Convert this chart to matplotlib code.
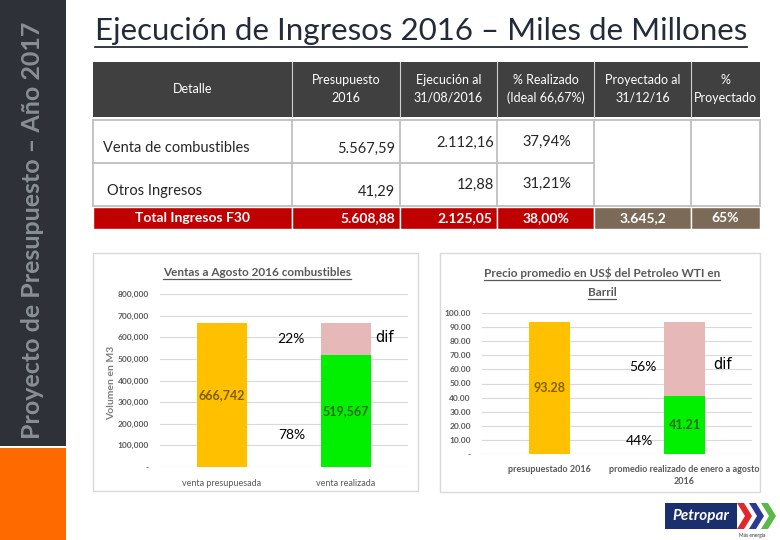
import matplotlib
matplotlib.use("Agg")
import matplotlib.pyplot as plt
from matplotlib.patches import Rectangle, Polygon

plt.rcParams['font.family'] = ['Lato', 'DejaVu Sans']

W, H = 780, 540

titulo = "Ejecución de Ingresos 2016 – Miles de Millones"
lateral = "Proyecto de Presupuesto – Año 2017"

encabezados = ["Detalle", "Presupuesto\n2016", "Ejecución al\n31/08/2016",
               "% Realizado\n(Ideal 66,67%)", "Proyectado al\n31/12/16", "%\nProyectado"]
detalle = ["Venta de combustibles", "Otros Ingresos"]
presupuesto = ["5.567,59", "41,29"]
ejecucion = ["2.112,16", "12,88"]
realizado = ["37,94%", "31,21%"]
total = ["Total Ingresos F30", "5.608,88", "2.125,05", "38,00%", "3.645,2", "65%"]

ventas_titulo = "Ventas a Agosto 2016 combustibles"
ventas_cat = ["venta presupuesada", "venta realizada"]
ventas_presup = 666742
ventas_real = 519567
ventas_pct = ["22%", "78%"]
ventas_ticks = [0, 100000, 200000, 300000, 400000, 500000, 600000, 700000, 800000]

wti_titulo = ["Precio promedio en US$ del Petroleo WTI en", "Barril"]
wti_cat = ["presupuestado 2016", "promedio realizado de enero a agosto\n2016"]
wti_presup = 93.28
wti_real = 41.21
wti_pct = ["56%", "44%"]
wti_ticks = [0, 10, 20, 30, 40, 50, 60, 70, 80, 90, 100]

NARANJA = "#FFC000"
VERDE = "#00F000"
ROSA = "#E6B8B7"
GRIS = "#595959"


def px_axes(fig, x0, y0, x1, y1):
    return fig.add_axes([x0 / W, 1 - y1 / H, (x1 - x0) / W, (y1 - y0) / H])


fig = plt.figure(figsize=(W / 100, H / 100), dpi=100)
bg = fig.add_axes([0, 0, 1, 1])
bg.set_xlim(0, W)
bg.set_ylim(H, 0)
bg.axis("off")

# barra lateral
bg.add_patch(Rectangle((0, 0), 66, 446, fc="#2E3238", ec="none"))
bg.add_patch(Rectangle((0, 448), 66, 92, fc="#FF6A00", ec="none"))
bg.text(33, 230, lateral, rotation=90, ha="center", va="center",
        fontsize=18, fontweight="bold", color="#8A8F96")

# titulo
t_main = bg.text(421, 31, titulo, ha="center", va="center", fontsize=22.5,
                 color="#222B3A")

# tabla
cols = [93, 292, 400, 497, 594, 691, 760]
bg.add_patch(Rectangle((93, 62), 667, 55, fc="#404040", ec="none"))
for x in cols[1:-1]:
    bg.plot([x, x], [62, 117], color="#D0D0D0", lw=0.8)
for i, txt in enumerate(encabezados):
    xc = (cols[i] + cols[i + 1]) / 2
    bg.text(xc, 89, txt, ha="center", va="center", fontsize=9,
            color="white", linespacing=1.5)

borde = "#BFBFBF"
bg.plot([93, 760], [120, 120], color=borde, lw=1.3)
bg.plot([93, 594], [163, 163], color=borde, lw=1.3)
bg.plot([93, 760], [206, 206], color=borde, lw=1.3)
for x in cols:
    bg.plot([x, x], [120, 206], color=borde, lw=1.3)

filas_y = [(148, 143), (191, 185)]
for i in range(2):
    ya, yb = filas_y[i]
    bg.text(103 if i == 0 else 107, ya, detalle[i], ha="left", va="center",
            fontsize=10.5, color="#262626")
    bg.text(395, ya + 1, presupuesto[i], ha="right", va="center",
            fontsize=10.5, color="#262626")
    bg.text(494, yb, ejecucion[i], ha="right", va="center",
            fontsize=10.5, color="#262626")
    bg.text(547, yb - 1, realizado[i], ha="center", va="center",
            fontsize=10.5, color="#262626")

for i, txt in enumerate(total):
    fc = "#C00000" if i < 4 else "#7B6A58"
    bg.add_patch(Rectangle((cols[i], 207), cols[i + 1] - cols[i], 22,
                           fc=fc, ec="white", lw=1))
    if i in (1, 2):
        bg.text(cols[i + 1] - 5, 218, txt, ha="right", va="center",
                fontsize=10, color="white", fontweight="bold")
    else:
        bg.text((cols[i] + cols[i + 1]) / 2, 218, txt, ha="center",
                va="center", fontsize=10, color="white", fontweight="bold")

# paneles de graficos
bg.add_patch(Rectangle((93, 253), 325, 238, fc="white", ec="#D9D9D9", lw=1))
bg.add_patch(Rectangle((440, 253), 320, 239, fc="white", ec="#D9D9D9", lw=1))

t_v = bg.text(257, 272, ventas_titulo, ha="center", va="center", fontsize=8.5,
              fontweight="bold", color=GRIS)
t_w1 = bg.text(602, 273, wti_titulo[0], ha="center", va="center",
               fontsize=8.5, fontweight="bold", color=GRIS)
t_w2 = bg.text(602, 292, wti_titulo[1], ha="center", va="center",
               fontsize=8.5, fontweight="bold", color=GRIS)
bg.text(112, 383, "Volumen en M3", rotation=90, ha="center", va="center",
        fontsize=7.5, fontweight="bold", color="#7F7F7F")


def estilo(ax, ticks, fmt):
    ax.set_xlim(-0.5, 1.5)
    ax.set_ylim(ticks[0], ticks[-1])
    ax.set_yticks(ticks)
    ax.set_yticklabels(["-" if v == 0 else fmt(v) for v in ticks],
                       fontsize=6, fontweight="bold", color=GRIS)
    ax.yaxis.grid(True, color="#D9D9D9", lw=0.8)
    ax.set_axisbelow(True)
    for s in ax.spines.values():
        s.set_visible(False)
    ax.tick_params(length=0, pad=8)
    ax.patch.set_alpha(0)


# grafico ventas
ax1 = px_axes(fig, 160, 294, 408, 467)
ax1.bar(0, ventas_presup, 0.4, color=NARANJA)
ax1.bar(1, ventas_real, 0.4, color=VERDE)
ax1.bar(1, ventas_presup - ventas_real, 0.4, bottom=ventas_real, color=ROSA)
estilo(ax1, ventas_ticks, lambda v: f"{v:,.0f}")
ax1.set_xticks([0, 1])
ax1.set_xticklabels(ventas_cat, fontsize=6.5, color=GRIS)
ax1.tick_params(axis="x", pad=9)
ax1.text(0, ventas_presup / 2, f"{ventas_presup:,}", ha="center", va="center",
         fontsize=9, fontweight="bold", color="#7F6000")
ax1.text(1, ventas_real / 2, f"{ventas_real:,}", ha="center", va="center",
         fontsize=9, fontweight="bold", color="#2E6B1E")
ax1.text(0.56, 593000, ventas_pct[0], ha="center", va="center", fontsize=10,
         color="black")
ax1.text(0.56, 148000, ventas_pct[1], ha="center", va="center", fontsize=10,
         color="black")
ax1.text(1.31, 600000, "dif", ha="center", va="center", fontsize=10.5,
         color="black", family="DejaVu Sans")

# grafico WTI
ax2 = px_axes(fig, 482, 313, 752, 454)
ax2.bar(0, wti_presup, 0.31, color=NARANJA)
ax2.bar(1, wti_real, 0.31, color=VERDE)
ax2.bar(1, wti_presup - wti_real, 0.31, bottom=wti_real, color=ROSA)
estilo(ax2, wti_ticks, lambda v: f"{v:.2f}")
ax2.set_xticks([0, 1])
ax2.set_xticklabels(wti_cat, fontsize=6.5, color=GRIS, fontweight="bold",
                    va="top", linespacing=1.4)
ax2.tick_params(axis="x", pad=8)
ax2.text(0, wti_presup / 2, f"{wti_presup:.2f}", ha="center", va="center",
         fontsize=9, fontweight="bold", color="#7F6000")
ax2.text(1, wti_real / 2, f"{wti_real:.2f}", ha="center", va="center",
         fontsize=9, fontweight="bold", color="#2E6B1E")
ax2.text(0.69, 61.6, wti_pct[0], ha="center", va="center", fontsize=10,
         color="black")
ax2.text(0.67, 9.2, wti_pct[1], ha="center", va="center", fontsize=10,
         color="black")
ax2.text(1.28, 63.7, "dif", ha="center", va="center", fontsize=10.5,
         color="black", family="DejaVu Sans")

# logo
bg.add_patch(Rectangle((665, 503), 72, 26, fc="#1B2F6E", ec="none"))
bg.text(701, 516, "Petropar", ha="center", va="center", fontsize=11,
        fontweight="bold", fontstyle="italic", color="white")
for x0, c in [(737, "#E3262B"), (749, "#2B3990"), (761, "#5BB947")]:
    bg.add_patch(Polygon([(x0, 503), (x0 + 7, 503), (x0 + 15, 516),
                          (x0 + 7, 529), (x0, 529), (x0 + 8, 516)],
                         closed=True, fc=c, ec="none"))
bg.text(752, 535, "Más energía", ha="center", va="center", fontsize=3.5,
        color="#333333")

# subrayados
fig.canvas.draw()
inv = bg.transData.inverted()
for t, off, col, lw in [(t_main, 2, "#222B3A", 1.3), (t_v, 1, GRIS, 0.9),
                        (t_w1, 1, GRIS, 0.9), (t_w2, 1, GRIS, 0.9)]:
    bb = t.get_window_extent()
    (xa, yb), (xb, _) = inv.transform([[bb.x0, bb.y0], [bb.x1, bb.y1]])
    bg.plot([xa, xb], [yb + off, yb + off], color=col, lw=lw)

fig.savefig("out.png", dpi=100)
